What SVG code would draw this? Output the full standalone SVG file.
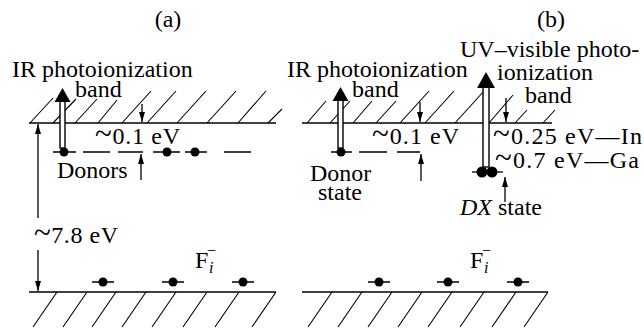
<svg xmlns="http://www.w3.org/2000/svg" width="644" height="331" viewBox="0 0 644 331">
<defs>
<style>
.t{font-family:'Liberation Serif','DejaVu Serif','Times New Roman',serif;font-size:24px;fill:#000}
.ln{stroke:#000;stroke-width:1.3;fill:none}
.h{stroke:#000;stroke-width:1.1;fill:none}
.dash{stroke:#000;stroke-width:1.3;fill:none}
.arr{stroke:#000;stroke-width:1.3;fill:none;marker-end:url(#ah)}
.shaft{fill:#fff;stroke:#000;stroke-width:1.4}
.sub{font-size:16px;font-style:italic}
.sup{font-size:16px}
.tl{font-size:31px}
</style>
<marker id="ah" viewBox="0 0 10 6" refX="10" refY="3" markerWidth="10" markerHeight="6" markerUnits="userSpaceOnUse" orient="auto">
<path d="M0,0 L10,3 L0,6 Z" fill="#000"/>
</marker>
</defs>
<rect width="644" height="331" fill="#fff"/>

<g id="labels" class="t" font-family="Liberation Serif, DejaVu Serif, serif">
<text x="168" y="27" text-anchor="middle">(a)</text>
<text x="551" y="27" text-anchor="middle">(b)</text>
</g>

<g id="bands">
<line class="ln" x1="29" y1="123" x2="276" y2="123"/>
<path class="h" d="M30,123 L53,98 M53,123 L76,99 M75,123 L97,99 M98,123 L117,100 M122,123 L151,91 M147,123 L176,91 M177,123 L206,91 M207,123 L236,91 M238,123 L266,91 M268,123 L282,109"/>
<line class="ln" x1="302" y1="123" x2="552" y2="123"/>
<path class="h" d="M307,123 L326,101 M330,123 L350,101 M353,123 L372,101 M376,123 L396,101 M400,123 L429,91 M425,123 L454,91 M455,123 L484,91 M489,123 L513,95 M515,123 L527,110 M543,123 L555,110"/>
<line class="ln" x1="29" y1="292" x2="276" y2="292"/>
<path class="h" d="M57,292 L33,327 M87,292 L63,327 M116,292 L92,327 M146,292 L122,327 M176,292 L152,327 M207,292 L183,327 M239,292 L215,327 M276,292 L252,327"/>
<line class="ln" x1="302" y1="292" x2="548" y2="292"/>
<path class="h" d="M332,292 L308,327 M362,292 L338,327 M392,292 L368,327 M422,292 L398,327 M452,292 L428,327 M484,292 L460,327 M516,292 L492,327 M548,292 L524,327"/>
</g>

<g id="donor-levels">
<path class="dash" d="M53,152 H76 M83,152 H110 M118,152 H143 M153,152 H180 M185,152 H207 M224,152 H251"/>
<circle cx="64" cy="152" r="4.5"/>
<circle cx="167" cy="152" r="4.5"/>
<circle cx="195" cy="152" r="4.5"/>
<path class="dash" d="M331,152 H352 M359,152 H387 M397,152 H420"/>
<circle cx="341" cy="152" r="4.5"/>
<path class="dash" d="M472,172 H503"/>
<circle cx="482" cy="172" r="5.5"/>
<circle cx="492" cy="172" r="5.5"/>
</g>

<g id="fi-levels">
<path class="dash" d="M92,282 H114 M162,282 H184 M232,282 H254 M368,282 H390 M437,282 H459 M507,282 H529"/>
<circle cx="103" cy="282" r="4.5"/>
<circle cx="173" cy="282" r="4.5"/>
<circle cx="243" cy="282" r="4.5"/>
<circle cx="379" cy="282" r="4.5"/>
<circle cx="448" cy="282" r="4.5"/>
<circle cx="518" cy="282" r="4.5"/>
</g>

<g id="connectors">
<line class="arr" x1="38" y1="218" x2="38" y2="124"/>
<line class="arr" x1="38" y1="250" x2="38" y2="291"/>
<line class="arr" x1="142" y1="104" x2="142" y2="122"/>
<line class="arr" x1="141" y1="180" x2="141" y2="154"/>
<line class="arr" x1="420" y1="102" x2="420" y2="122"/>
<line class="arr" x1="421" y1="181" x2="421" y2="154"/>
<line class="arr" x1="506" y1="98" x2="506" y2="122"/>
<line class="arr" x1="505" y1="202" x2="505" y2="177"/>
</g>

<g id="ir-arrow-a">
<rect class="shaft" x="60" y="101" width="5" height="47"/>
<path d="M62.5,88 L54.5,102 L70.5,102 Z"/>
</g>
<g id="ir-arrow-b">
<rect class="shaft" x="338" y="100" width="5" height="48"/>
<path d="M340.5,87 L332.5,101 L348.5,101 Z"/>
</g>
<g id="uv-arrow-b">
<rect class="shaft" x="483" y="87" width="6" height="80"/>
<path d="M486,72 L477,88 L495,88 Z"/>
</g>

<g id="texts" class="t" font-family="Liberation Serif, DejaVu Serif, serif">
<text x="12" y="77">IR photoionization</text>
<text x="75" y="97">band</text>
<text x="95" y="144" textLength="85" lengthAdjust="spacing"><tspan class="tl">~</tspan>0.1 eV</text>
<text x="57" y="178">Donors</text>
<text x="34" y="243" textLength="84" lengthAdjust="spacing"><tspan class="tl">~</tspan>7.8 eV</text>
<text x="287" y="77">IR photoionization</text>
<text x="352" y="97">band</text>
<text x="460" y="57">UV–visible photo-</text>
<text x="497" y="80">ionization</text>
<text x="525" y="103">band</text>
<text x="372" y="144" textLength="87" lengthAdjust="spacing"><tspan class="tl">~</tspan>0.1 eV</text>
<text x="493" y="144" textLength="149" lengthAdjust="spacing"><tspan class="tl">~</tspan>0.25 eV—In</text>
<text x="495" y="168" textLength="144" lengthAdjust="spacing"><tspan class="tl">~</tspan>0.7 eV—Ga</text>
<text x="310" y="181">Donor</text>
<text x="318" y="200">state</text>
<text x="460" y="215"><tspan font-style="italic">DX</tspan> state</text>
<text x="195" y="268">F<tspan class="sub" x="209" y="273">i</tspan><tspan class="sup" x="207" y="256">−</tspan></text>
<text x="470" y="268">F<tspan class="sub" x="484" y="273">i</tspan><tspan class="sup" x="482" y="256">−</tspan></text>
</g>
</svg>
